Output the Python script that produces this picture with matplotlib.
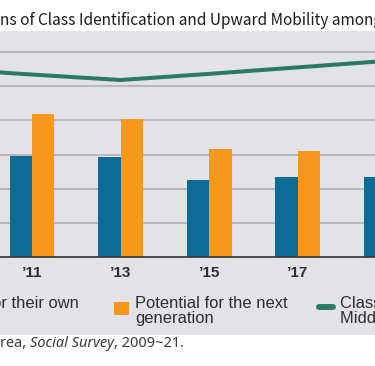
import matplotlib
matplotlib.use("Agg")
import matplotlib.pyplot as plt
import numpy as np
from matplotlib.patches import Rectangle
from matplotlib.lines import Line2D

# ---- data ----
years = ["\u201909", "\u201911", "\u201913", "\u201915", "\u201917", "\u201919"]
own_generation = [np.nan, 29.6, 29.2, 22.5, 23.5, 23.5]
next_generation = [np.nan, 41.9, 40.4, 31.6, 31.1, np.nan]
middle_class = [55.1, 53.4, 51.8, 53.6, 55.5, 57.4]
grid_levels = [10, 20, 30, 40, 50, 60]

legend_labels = [
    ("Potential for their own", "generation"),
    ("Potential for the next", "generation"),
    ("Class identification:", "Middle class"),
]
title_text = "ns of Class Identification and Upward Mobility among"
source_parts = [("rea, ", "normal"), ("Social Survey", "italic"), (", 2009~21.", "normal")]

BLUE = "#0d6b95"
ORANGE = "#f7981d"
GREEN = "#2b7b63"
PANEL = "#e3e3e7"
GRID = "#b5b5b9"
TXT = "#2e2e2e"

W, H = 375, 366
fig = plt.figure(figsize=(W / 100, H / 100), dpi=100)
fig.patch.set_facecolor("white")


def fx(x):
    return x / W


def fy(y):
    return 1 - y / H


# grey panel
fig.add_artist(Rectangle((0, fy(335)), 1, (335 - 31) / H, transform=fig.transFigure,
                         facecolor=PANEL, edgecolor="none", zorder=0))

# axes (extends beyond the visible figure, as the reference is a crop)
unit = 88.6
c11 = 32.0
left_px = c11 - 1.5 * unit
width_px = len(years) * unit
ax = fig.add_axes([fx(left_px), (H - 257) / H, width_px / W, 205 / H])
ax.patch.set_alpha(0)
for s in ax.spines.values():
    s.set_visible(False)
ax.set_xlim(-0.5, len(years) - 0.5)
ax.set_ylim(0, 60)
ax.set_yticks([])

x = np.arange(len(years))
bw = 22.5 / unit

for g in grid_levels:
    ax.axhline(g, color=GRID, lw=1.3, zorder=1, clip_on=False)

ax.bar(x - bw / 2, own_generation, bw, color=BLUE, zorder=2)
ax.bar(x + bw / 2, next_generation, bw, color=ORANGE, zorder=2)
ax.axhline(0, color="#3c3c3c", lw=1.3, zorder=4, clip_on=False)
ax.plot(x, middle_class, color=GREEN, lw=2.9, solid_capstyle="round",
        solid_joinstyle="round", zorder=3, clip_on=False)

ax.set_xticks(x, years)
ax.tick_params(axis="x", length=0, pad=6.5, labelsize=11, labelcolor=TXT)
for t in ax.get_xticklabels():
    t.set_fontfamily("Liberation Sans")
    t.set_fontweight("bold")

# ---- legend (manual, in pixel positions) ----
LFONT = dict(family="Liberation Sans", size=11.9, color=TXT)
fig.canvas.draw()
r = fig.canvas.get_renderer()

# entry 1 (mostly cropped on the left)
t1 = fig.text(fx(79), fy(308.3), legend_labels[0][0], ha="right", va="baseline", **LFONT)
bb = t1.get_window_extent(r)
x1 = bb.x0
fig.text(x1 / W, fy(323.3), legend_labels[0][1], ha="left", va="baseline", **LFONT)
fig.add_artist(Rectangle(((x1 - 21) / W, fy(315)), 15 / W, 13 / H, transform=fig.transFigure,
                         facecolor=BLUE, edgecolor="none"))

# entry 2
fig.add_artist(Rectangle((fx(114), fy(315)), 15 / W, 13 / H, transform=fig.transFigure,
                         facecolor=ORANGE, edgecolor="none"))
fig.text(fx(135), fy(308.3), legend_labels[1][0], ha="left", va="baseline", **LFONT)
fig.text(fx(135), fy(323.3), legend_labels[1][1], ha="left", va="baseline", **LFONT)

# entry 3
fig.add_artist(Line2D([fx(319), fx(333)], [fy(306.5), fy(306.5)], transform=fig.transFigure,
                      color=GREEN, lw=4.3, solid_capstyle="round"))
fig.text(fx(340), fy(308.3), legend_labels[2][0], ha="left", va="baseline", **LFONT)
fig.text(fx(340), fy(323.3), legend_labels[2][1], ha="left", va="baseline", **LFONT)

# ---- title (cropped) ----
tt = fig.text(0, fy(25), title_text, ha="left", va="baseline",
              family=["Noto Sans CJK KR", "DejaVu Sans"], fontsize=12.5, color="#1c1c1c")
w = tt.get_window_extent(r).width
tt.set_fontsize(12.5 * 383 / w)
tt.set_x(-0.5 / W)

# ---- source line (fit to the reference width) ----
def draw_source(size):
    pieces = []
    xpos = 0.0
    for txt, style in source_parts:
        s = fig.text(xpos / W, fy(347.3), txt, ha="left", va="baseline",
                     family=["Noto Sans", "DejaVu Sans"], style=style, fontsize=size,
                     color="#3a3a3a")
        e = s.get_window_extent(r)
        xpos = e.x1
        pieces.append(s)
    return pieces, xpos

pieces, end = draw_source(9.3)
for p in pieces:
    p.remove()
draw_source(9.3 * 184 / end)

fig.savefig("out.png", dpi=100)
